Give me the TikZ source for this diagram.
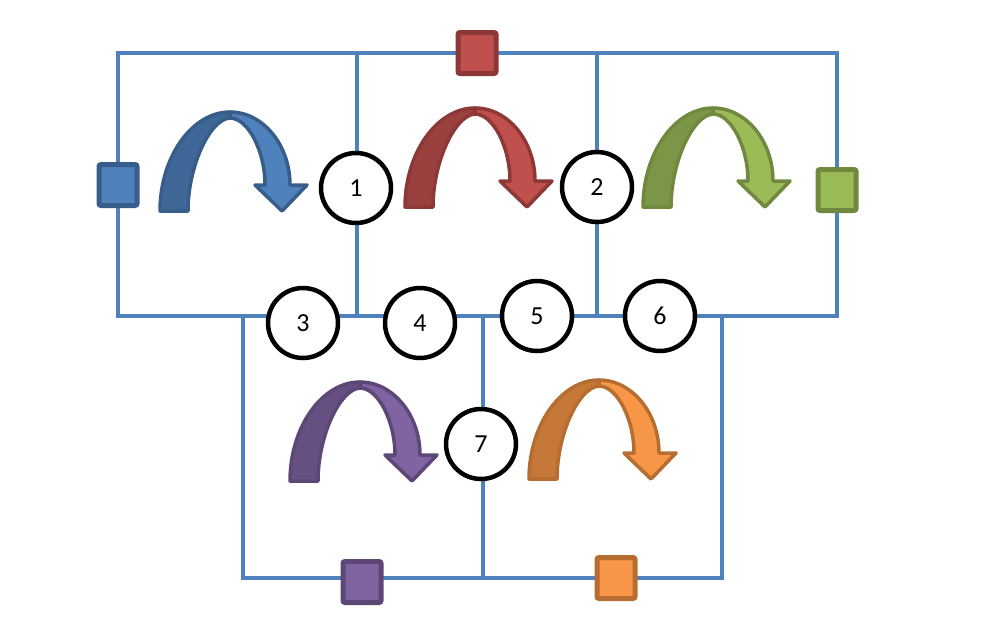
\documentclass[tikz,border=0pt]{standalone}
\usepackage{fontspec}
\setmainfont{Carlito}
\definecolor{lineblue}{HTML}{4F81BD}
\definecolor{bluel}{HTML}{4F81BD}\definecolor{blued}{HTML}{3F6797}\definecolor{blueb}{HTML}{385D8A}
\definecolor{redl}{HTML}{C0504D}\definecolor{redd}{HTML}{9A403E}\definecolor{redb}{HTML}{8C3836}
\definecolor{greenl}{HTML}{9BBB59}\definecolor{greend}{HTML}{7C9647}\definecolor{greenb}{HTML}{71893F}
\definecolor{purpl}{HTML}{8064A2}\definecolor{purpd}{HTML}{665082}\definecolor{purpb}{HTML}{5C4776}
\definecolor{orgl}{HTML}{F79646}\definecolor{orgd}{HTML}{C67838}\definecolor{orgb}{HTML}{B66D31}
\tikzset{
  wire/.style={draw=lineblue, line width=4.5pt},
  num/.style={circle, draw=black, fill=white, line width=4.5pt, minimum size=70pt, inner sep=0pt,
    font=\fontsize{26}{30}\selectfont},
  sq/.style={rectangle, line width=5pt, rounded corners=2pt, minimum width=38pt, minimum height=41pt, inner sep=0pt},
  pics/curvarr/.style n args={3}{code={
    \filldraw[fill=#1, draw=#3, line width=3.5pt, line join=round]
      (0,0) .. controls (0,-54) and (32,-99) .. (70,-99) -- (70,-93)
      .. controls (50,-92) and (28,-45) .. (28,0) -- cycle;
    \filldraw[fill=#2, draw=#3, line width=3.5pt, line join=round]
      (70,-99) .. controls (103,-99) and (130,-66) .. (130,-26) -- (147,-26) -- (122,0)
      -- (95,-26) -- (105,-26) .. controls (105,-60) and (88,-93) .. (70,-93) -- cycle;
  }}
}
\begin{document}
\begin{tikzpicture}[x=1pt, y=-1pt]
\useasboundingbox (0,0) rectangle (998,640);
% wire corners
\coordinate (TL) at (118,53);  \coordinate (TM1) at (357,53);
\coordinate (TM2) at (597,53); \coordinate (TR) at (837,53);
\coordinate (ML) at (118,316); \coordinate (MA) at (243,316);
\coordinate (M1) at (357,316); \coordinate (MB) at (483,316);
\coordinate (M2) at (597,316); \coordinate (MC) at (722,316);
\coordinate (MR) at (837,316);
\coordinate (BL) at (243,578); \coordinate (BM) at (483,578);
\coordinate (BR) at (722,578);
\draw[wire] (TL) -- (TR) -- (MR) -- (ML) -- cycle;
\draw[wire] (TM1) -- (M1);
\draw[wire] (TM2) -- (M2);
\draw[wire] (MA) -- (BL) -- (BR) -- (MC);
\draw[wire] (MB) -- (BM);
% curved arrows
\pic (arrB) at (160,211) {curvarr={blued}{bluel}{blueb}};
\pic (arrR) at (405,207) {curvarr={redd}{redl}{redb}};
\pic (arrG) at (643,207) {curvarr={greend}{greenl}{greenb}};
\pic (arrP) at (290,481) {curvarr={purpd}{purpl}{purpb}};
\pic (arrO) at (529,479) {curvarr={orgd}{orgl}{orgb}};
% squares
\node[sq, fill=bluel, draw=blueb] (sqB) at (118,185) {};
\node[sq, fill=redl, draw=redb] (sqR) at (477,53) {};
\node[sq, fill=greenl, draw=greenb] (sqG) at (837,190) {};
\node[sq, fill=purpl, draw=purpb] (sqP) at (362,582) {};
\node[sq, fill=orgl, draw=orgb] (sqO) at (616,578) {};
% numbered circles
\node[num] (c1) at (356,188) {1};
\node[num] (c2) at (597,187) {2};
\node[num] (c3) at (303,323) {3};
\node[num] (c4) at (420,323) {4};
\node[num] (c5) at (537,316) {5};
\node[num] (c6) at (660,316) {6};
\node[num] (c7) at (481,444) {7};
\end{tikzpicture}
\end{document}
